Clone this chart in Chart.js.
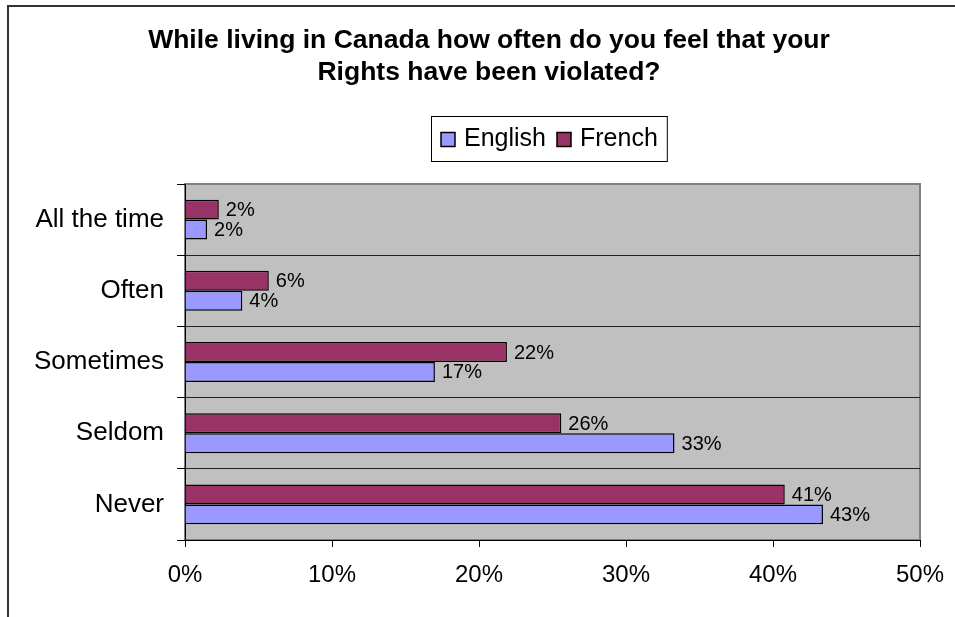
<!DOCTYPE html>
<html>
<head>
<meta charset="utf-8">
<script src="https://cdn.jsdelivr.net/npm/chart.js@4.4.1/dist/chart.umd.min.js"></script>
<style>
  html, body { margin: 0; padding: 0; background: #fff; overflow: hidden; }
  #frame {
    position: absolute; left: 7px; top: 5px;
    width: 964px; height: 640px;
    border: 2px solid #333; box-sizing: border-box;
  }
  #chart { position: absolute; left: 0; top: 0; }
</style>
</head>
<body>
<div id="frame"><canvas id="chart" width="960" height="610"></canvas></div>
<script>
const titleLines = ["While living in Canada how often do you feel that your", "Rights have been violated?"];
const categories = ["All the time", "Often", "Sometimes", "Seldom", "Never"];
const french = [2.3, 5.7, 21.9, 25.6, 40.8];
const english = [1.5, 3.9, 17.0, 33.3, 43.4];
const xTicks = [0, 10, 20, 30, 40, 50];

const FONT = "'Liberation Sans', Arial, sans-serif";

// grey plot background with its thin border
const plotBackground = {
  id: "plotBackground",
  beforeDraw(chart) {
    const {ctx, chartArea: a} = chart;
    ctx.save();
    ctx.fillStyle = "#c0c0c0";
    ctx.fillRect(a.left, a.top, a.right - a.left, a.bottom - a.top);
    ctx.strokeStyle = "#808080";
    ctx.lineWidth = 2;
    ctx.strokeRect(a.left, a.top, a.right - a.left, a.bottom - a.top);
    ctx.restore();
  }
};

// two-line bold title, centred on the whole frame rather than the plot
const frameTitle = {
  id: "frameTitle",
  afterDraw(chart) {
    const ctx = chart.ctx;
    ctx.save();
    ctx.font = "bold 26.5px " + FONT;
    ctx.fillStyle = "#000";
    ctx.textAlign = "center";
    ctx.textBaseline = "middle";
    titleLines.forEach((line, i) => ctx.fillText(line, chart.width / 2, 33.5 + i * 32.5));
    ctx.restore();
  }
};

// percentage labels at the end of each bar
const barLabels = {
  id: "barLabels",
  afterDatasetsDraw(chart) {
    const ctx = chart.ctx;
    ctx.save();
    ctx.font = "20px " + FONT;
    ctx.fillStyle = "#000";
    ctx.textAlign = "left";
    ctx.textBaseline = "middle";
    chart.data.datasets.forEach((ds, i) => {
      chart.getDatasetMeta(i).data.forEach((bar, j) => {
        ctx.fillText(Math.round(ds.data[j]) + "%", bar.x + 7, bar.y + 1);
      });
    });
    ctx.restore();
  }
};

// boxed legend, English first
const boxedLegend = {
  id: "boxedLegend",
  afterDraw(chart) {
    const ctx = chart.ctx;
    const items = chart.data.datasets.slice().reverse();
    const left = 422, top = 109, h = 45, sq = 14;
    ctx.save();
    ctx.font = "25px " + FONT;
    ctx.textBaseline = "middle";
    let x = left + 10;
    const cy = top + h / 2;
    const pos = [];
    items.forEach(ds => {
      pos.push(x);
      x += sq + 9 + ctx.measureText(ds.label).width + 11;
    });
    const right = x - 11 + 9;
    ctx.fillStyle = "#fff";
    ctx.fillRect(left, top, right - left, h);
    ctx.strokeStyle = "#000";
    ctx.lineWidth = 1;
    ctx.strokeRect(left + 0.5, top + 0.5, right - left, h);
    items.forEach((ds, i) => {
      ctx.fillStyle = ds.backgroundColor;
      ctx.fillRect(pos[i], cy - sq / 2 + 1, sq, sq);
      ctx.lineWidth = 1.5;
      ctx.strokeRect(pos[i], cy - sq / 2 + 1, sq, sq);
      ctx.fillStyle = "#000";
      ctx.fillText(ds.label, pos[i] + sq + 9, cy + 1);
    });
    ctx.restore();
  }
};

new Chart(document.getElementById("chart"), {
  type: "bar",
  data: {
    labels: categories,
    datasets: [
      { label: "French", data: french, backgroundColor: "#993366", borderColor: "#000", borderWidth: 1.5 },
      { label: "English", data: english, backgroundColor: "#9999ff", borderColor: "#000", borderWidth: 1.5 }
    ]
  },
  options: {
    indexAxis: "y",
    responsive: false,
    animation: false,
    devicePixelRatio: 1,
    categoryPercentage: 0.56,
    barPercentage: 1.0,
    layout: { padding: { left: 0, right: 49, top: 177, bottom: 0 } },
    plugins: {
      legend: { display: false },
      tooltip: { enabled: false },
      title: { display: false }
    },
    scales: {
      x: {
        min: 0,
        max: 50,
        afterBuildTicks: scale => { scale.ticks = xTicks.map(v => ({ value: v })); },
        afterFit: scale => { scale.height = 77; },
        grid: { drawOnChartArea: false, tickLength: 7, tickColor: "#000" },
        border: { color: "#000", width: 1 },
        ticks: {
          callback: v => v + "%",
          color: "#000",
          padding: 14,
          maxRotation: 0,
          font: { family: FONT, size: 24 }
        }
      },
      y: {
        afterFit: scale => { scale.width = 176; },
        grid: {
          color: c => c.index === 0 ? "rgba(0,0,0,0)" : "#222",
          lineWidth: 1,
          tickLength: 8,
          tickColor: "#000"
        },
        border: { color: "#000", width: 1 },
        ticks: { color: "#000", padding: 13, font: { family: FONT, size: 26 } }
      }
    }
  },
  plugins: [plotBackground, barLabels, boxedLegend, frameTitle]
});
</script>
</body>
</html>
